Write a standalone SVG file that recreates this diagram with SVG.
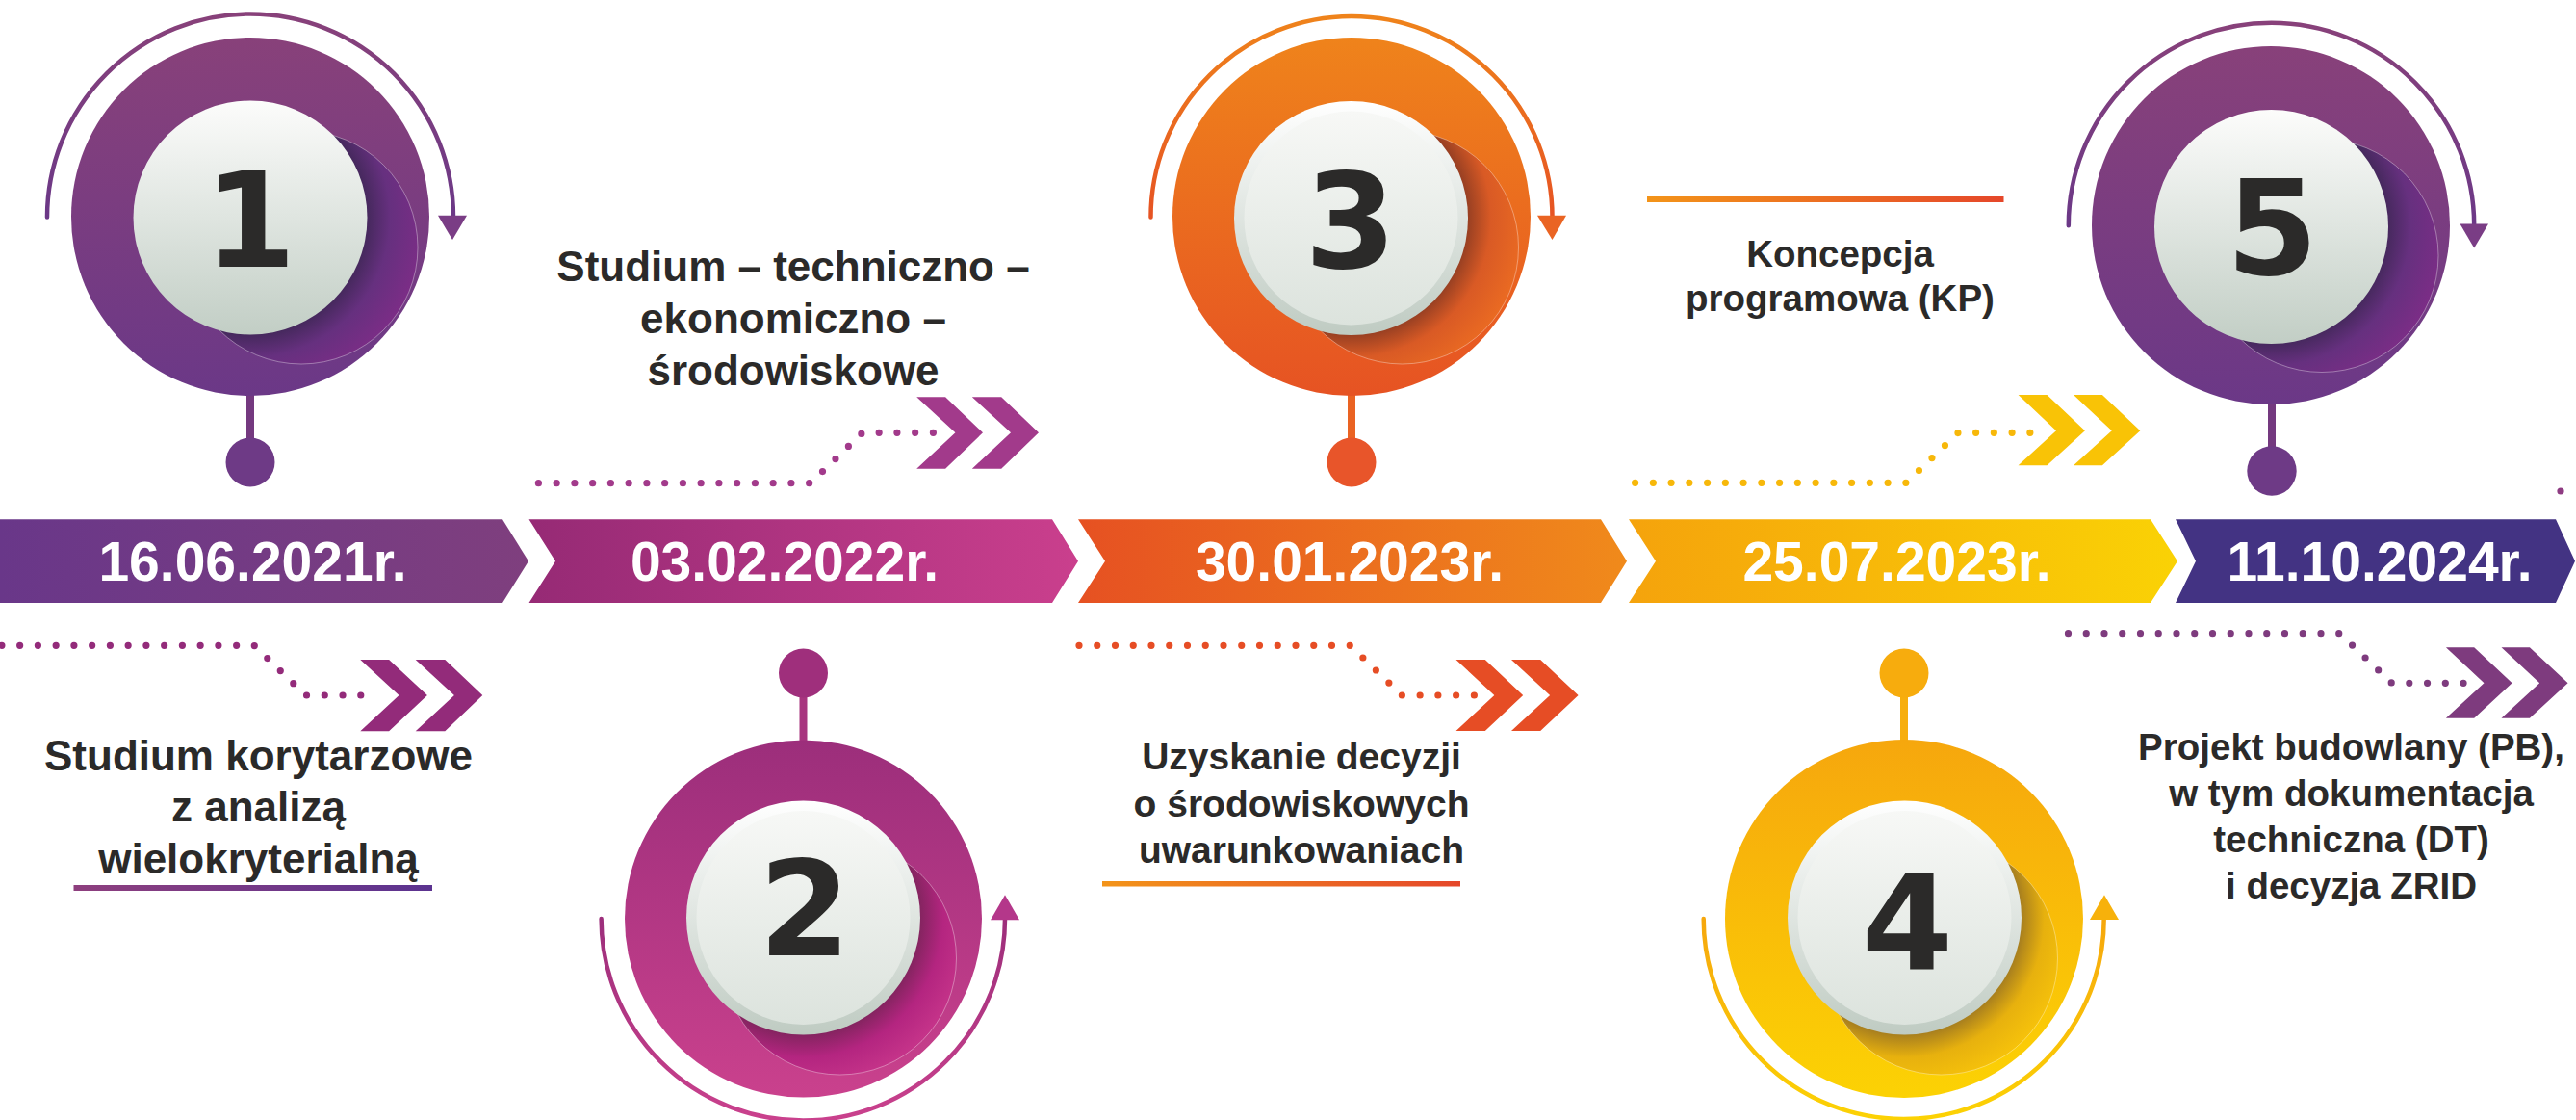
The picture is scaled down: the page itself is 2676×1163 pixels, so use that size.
<svg xmlns="http://www.w3.org/2000/svg" width="2676" height="1163" viewBox="0 0 2676 1163">
<style>
.lbl{font-family:"Liberation Sans",Arial,sans-serif;font-weight:bold;fill:#2B2A29;text-anchor:middle}
.date{font-family:"Liberation Sans",Arial,sans-serif;font-weight:bold;fill:#FFFFFF;text-anchor:middle;font-size:57px}
.num{font-family:"DejaVu Sans","Liberation Sans",sans-serif;font-weight:bold;fill:#2B2A29;text-anchor:middle;font-size:137px}
.arc{fill:none;stroke-width:4.5;stroke-linecap:round}
.dots{fill:none;stroke-width:7.2;stroke-linecap:round;stroke-dasharray:0 18.75}
.sh{stroke:#FFFFFF;stroke-opacity:.35;stroke-width:1}
</style>
<defs>
<linearGradient id="gPurple" x1="0" y1="0" x2="0" y2="1"><stop offset="0" stop-color="#88417A"/><stop offset="1" stop-color="#6B3887"/></linearGradient>
<linearGradient id="gMagenta" x1="0" y1="0" x2="0" y2="1"><stop offset="0" stop-color="#9C2E7B"/><stop offset="1" stop-color="#CA418D"/></linearGradient>
<linearGradient id="gOrange" x1="0" y1="0" x2="0" y2="1"><stop offset="0" stop-color="#EF831B"/><stop offset="1" stop-color="#E65323"/></linearGradient>
<linearGradient id="gYellow" x1="0" y1="0" x2="0" y2="1"><stop offset="0" stop-color="#F6A70D"/><stop offset="1" stop-color="#FCD204"/></linearGradient>
<linearGradient id="gFace" x1="0" y1="0" x2="0" y2="1"><stop offset="0" stop-color="#FCFCFB"/><stop offset="1" stop-color="#C2CEC5"/></linearGradient>
<linearGradient id="gRim" x1="0" y1="0" x2="0" y2="1"><stop offset="0" stop-color="#FFFFFF"/><stop offset="1" stop-color="#BFCBC2"/></linearGradient>
<linearGradient id="gFace2" x1="0" y1="0" x2="0" y2="1"><stop offset="0" stop-color="#F7F8F6"/><stop offset="1" stop-color="#DCE3DD"/></linearGradient>
<radialGradient id="sPurple" cx="0.281" cy="0.372" r="0.75"><stop offset="0.64" stop-color="#3F2756"/><stop offset="0.8" stop-color="#66307F"/><stop offset="1" stop-color="#7B2D86"/></radialGradient>
<radialGradient id="sOrange" cx="0.281" cy="0.372" r="0.75"><stop offset="0.64" stop-color="#8A3A22"/><stop offset="0.8" stop-color="#D95A25"/><stop offset="1" stop-color="#EA6A22"/></radialGradient>
<radialGradient id="sMagenta" cx="0.343" cy="0.326" r="0.75"><stop offset="0.64" stop-color="#7A2459"/><stop offset="0.8" stop-color="#B42580"/><stop offset="1" stop-color="#C8368B"/></radialGradient>
<radialGradient id="sYellow" cx="0.343" cy="0.326" r="0.75"><stop offset="0.64" stop-color="#9A7422"/><stop offset="0.8" stop-color="#E7B10E"/><stop offset="1" stop-color="#F8C40A"/></radialGradient>
<linearGradient id="b1" x1="0" y1="0" x2="1" y2="0"><stop offset="0" stop-color="#693789"/><stop offset="1" stop-color="#7F3F7E"/></linearGradient>
<linearGradient id="b2" x1="0" y1="0" x2="1" y2="0"><stop offset="0" stop-color="#962A75"/><stop offset="1" stop-color="#CA3F8D"/></linearGradient>
<linearGradient id="b3" x1="0" y1="0" x2="1" y2="0"><stop offset="0" stop-color="#E65122"/><stop offset="1" stop-color="#F08A1B"/></linearGradient>
<linearGradient id="b4" x1="0" y1="0" x2="1" y2="0"><stop offset="0" stop-color="#F5A30C"/><stop offset="1" stop-color="#FAD205"/></linearGradient>
<linearGradient id="uPurple" x1="0" y1="0" x2="1" y2="0"><stop offset="0" stop-color="#8E3F7E"/><stop offset="1" stop-color="#5B3390"/></linearGradient>
<linearGradient id="uOrange" x1="0" y1="0" x2="1" y2="0"><stop offset="0" stop-color="#F39419"/><stop offset="1" stop-color="#E5472A"/></linearGradient>
</defs>
<rect width="2676" height="1163" fill="#FFFFFF"/>

<g id="timeline">
<polygon points="0,539.3 522,539.3 549,582.7 522,626 0,626" fill="url(#b1)"/>
<polygon points="549.5,539.3 1093,539.3 1120,582.7 1093,626 549.5,626 577,582.7" fill="url(#b2)"/>
<polygon points="1120,539.3 1663,539.3 1690,582.7 1663,626 1120,626 1148,582.7" fill="url(#b3)"/>
<polygon points="1692,539.3 2234,539.3 2262,582.7 2234,626 1692,626 1720,582.7" fill="url(#b4)"/>
<polygon points="2260,539.3 2655,539.3 2675,582.7 2655,626 2260,626 2281,582.7" fill="#433383"/>
<text class="date" x="262.5" y="603">16.06.2021r.</text>
<text class="date" x="815" y="603">03.02.2022r.</text>
<text class="date" x="1402" y="603">30.01.2023r.</text>
<text class="date" x="1970.5" y="603">25.07.2023r.</text>
<text class="date" x="2472" y="603">11.10.2024r.</text>
</g>

<g id="connectors">
<path class="dots" stroke="#932B7A" d="M1.9 670.3 H264 L317.6 722 H393.4"/>
<polygon fill="#932B7A" points="374.3,685 404.1,685 443.9,722 404.1,759.3 374.3,759.3 414.5,722"/>
<polygon fill="#932B7A" points="431.7,685 462.3,685 501.3,722 462.3,759.3 431.7,759.3 471.9,722"/>
<path class="dots" stroke="#A23A8B" d="M559.4 501.7 H842 L896 449.3 H971"/>
<polygon fill="#A23A8B" points="952.2,412.3 982.1,412.3 1021,449.3 982.1,486.7 952.2,486.7 992.4,449.3"/>
<polygon fill="#A23A8B" points="1009.8,412.3 1040.2,412.3 1079,449.3 1040.2,486.7 1009.8,486.7 1050,449.3"/>
<path class="dots" stroke="#E64D25" d="M1121 670.3 H1402.7 L1456.3 722 H1531.7"/>
<polygon fill="#E64D25" points="1512.5,685 1542.8,685 1582.2,722 1542.8,759 1512.5,759 1552.3,722"/>
<polygon fill="#E64D25" points="1570,685 1600.2,685 1639.6,722 1600.2,759 1570,759 1610.1,722"/>
<path class="dots" stroke="#F7B80A" d="M1698.6 501.3 H1980.3 L2034.2 449.3 H2110"/>
<polygon fill="#F9C306" points="2096.6,410 2126.5,410 2165.9,447.3 2126.5,483.3 2096.6,483.3 2136,447.3"/>
<polygon fill="#F9C306" points="2154,410 2183.9,410 2223.3,447.3 2183.9,483.3 2154,483.3 2193.8,447.3"/>
<path class="dots" stroke="#7E3B7E" d="M2148.5 657.7 H2430.6 L2484.6 709.3 H2560"/>
<polygon fill="#7E3B7E" points="2540.9,672.3 2570.2,672.3 2609.6,709.3 2570.2,745.7 2540.9,745.7 2580.5,709.3"/>
<polygon fill="#7E3B7E" points="2598.5,672.3 2627.9,672.3 2667.6,709.3 2627.9,745.7 2598.5,745.7 2638.2,709.3"/>
<circle cx="2660" cy="510" r="3.6" fill="#8E3B82"/>
</g>

<g id="step1">
<path class="arc" stroke="url(#gPurple)" d="M49 225.5 A211 211 0 0 1 471 225.5"/>
<polygon points="455,223.8 485,223.8 470,249" fill="#7A3D85"/>
<rect x="256" y="405" width="8" height="55" fill="#74397F"/>
<circle cx="260" cy="480" r="25.5" fill="#6E3A86"/>
<circle cx="260" cy="225" r="186" fill="url(#gPurple)"/>
<circle cx="313" cy="257" r="121" fill="url(#sPurple)" class="sh"/>
<circle cx="260" cy="226" r="121.5" fill="url(#gFace)"/>
<text class="num" x="260" y="276.5">1</text>
</g>

<g id="step2">
<path class="arc" stroke="url(#gMagenta)" d="M624.6 954 A209.7 209.7 0 0 0 1044 954"/>
<polygon points="1029,955.2 1059,955.2 1044,929.2" fill="#B4378A"/>
<rect x="830.5" y="715" width="8" height="60" fill="#A8357F"/>
<circle cx="834.5" cy="699" r="25.5" fill="#9F2F7C"/>
<circle cx="834.5" cy="954" r="185.5" fill="url(#gMagenta)"/>
<circle cx="872.5" cy="995" r="121" fill="url(#sMagenta)" class="sh"/>
<circle cx="834.5" cy="953" r="121.5" fill="url(#gRim)"/>
<circle cx="834.5" cy="953" r="111" fill="url(#gFace2)"/>
<text class="num" x="836" y="991.5">2</text>
</g>

<g id="step3">
<path class="arc" stroke="url(#gOrange)" d="M1195.5 225.5 A208.5 208.5 0 0 1 1612.5 225.5"/>
<polygon points="1597,223.8 1627,223.8 1612.5,249" fill="#EA6423"/>
<rect x="1400" y="405" width="8" height="55" fill="#EA6322"/>
<circle cx="1404" cy="480" r="25.5" fill="#E8552A"/>
<circle cx="1404" cy="225" r="186" fill="url(#gOrange)"/>
<circle cx="1456.5" cy="257" r="121" fill="url(#sOrange)" class="sh"/>
<circle cx="1403.5" cy="226.5" r="121.5" fill="url(#gRim)"/>
<circle cx="1403.5" cy="226.5" r="111" fill="url(#gFace2)"/>
<text class="num" x="1403" y="278">3</text>
</g>

<g id="step4">
<path class="arc" stroke="url(#gYellow)" d="M1769.7 954 A208 208 0 0 0 2185.7 954"/>
<polygon points="2171,955 2201,955 2186,929.2" fill="#F7B10B"/>
<rect x="1974" y="715" width="8" height="60" fill="#F7AE0D"/>
<circle cx="1978" cy="699" r="25.5" fill="#F7AC0D"/>
<circle cx="1978" cy="954" r="186" fill="url(#gYellow)"/>
<circle cx="2016.5" cy="995" r="121" fill="url(#sYellow)" class="sh"/>
<circle cx="1978.5" cy="953" r="121.5" fill="url(#gRim)"/>
<circle cx="1978.5" cy="953" r="111" fill="url(#gFace2)"/>
<text class="num" x="1981.5" y="1006">4</text>
</g>

<g id="step5">
<path class="arc" stroke="url(#gPurple)" d="M2148.8 234.2 A210.7 210.7 0 0 1 2570.2 234.2"/>
<polygon points="2555.5,232.4 2585,232.4 2570.2,257.6" fill="#7A3D85"/>
<rect x="2356" y="414" width="8" height="55" fill="#74397F"/>
<circle cx="2360" cy="489" r="25.7" fill="#6E3A86"/>
<circle cx="2359" cy="234" r="186" fill="url(#gPurple)"/>
<circle cx="2412" cy="265.5" r="121" fill="url(#sPurple)" class="sh"/>
<circle cx="2359.5" cy="235.5" r="121.5" fill="url(#gFace)"/>
<text class="num" x="2360.5" y="284.5">5</text>
</g>

<g id="label1">
<text class="lbl" font-size="44" x="268.5" y="800">Studium korytarzowe</text>
<text class="lbl" font-size="44" x="268.5" y="853">z analizą</text>
<text class="lbl" font-size="44" x="268.5" y="907">wielokryterialną</text>
<rect x="76.5" y="919" width="372.5" height="6" fill="url(#uPurple)"/>
</g>
<g id="label2">
<text class="lbl" font-size="44" x="824" y="291.7">Studium – techniczno –</text>
<text class="lbl" font-size="44" x="824" y="345.7">ekonomiczno –</text>
<text class="lbl" font-size="44" x="824" y="400">środowiskowe</text>
</g>
<g id="label3">
<text class="lbl" font-size="39" x="1352" y="799">Uzyskanie decyzji</text>
<text class="lbl" font-size="39" x="1352" y="848">o środowiskowych</text>
<text class="lbl" font-size="39" x="1352" y="896">uwarunkowaniach</text>
<rect x="1145" y="915" width="372" height="5.5" fill="url(#uOrange)"/>
</g>
<g id="label4">
<rect x="1711" y="204" width="370.5" height="6" fill="url(#uOrange)"/>
<text class="lbl" font-size="38.5" x="1911.5" y="276.7">Koncepcja</text>
<text class="lbl" font-size="38.5" x="1911.5" y="323.3">programowa (KP)</text>
</g>
<g id="label5">
<text class="lbl" font-size="38.5" x="2442.5" y="789.3">Projekt budowlany (PB),</text>
<text class="lbl" font-size="38.5" x="2442.5" y="836.7">w tym dokumentacja</text>
<text class="lbl" font-size="38.5" x="2442.5" y="885">techniczna (DT)</text>
<text class="lbl" font-size="38.5" x="2442.5" y="933.3">i decyzja ZRID</text>
</g>
</svg>
